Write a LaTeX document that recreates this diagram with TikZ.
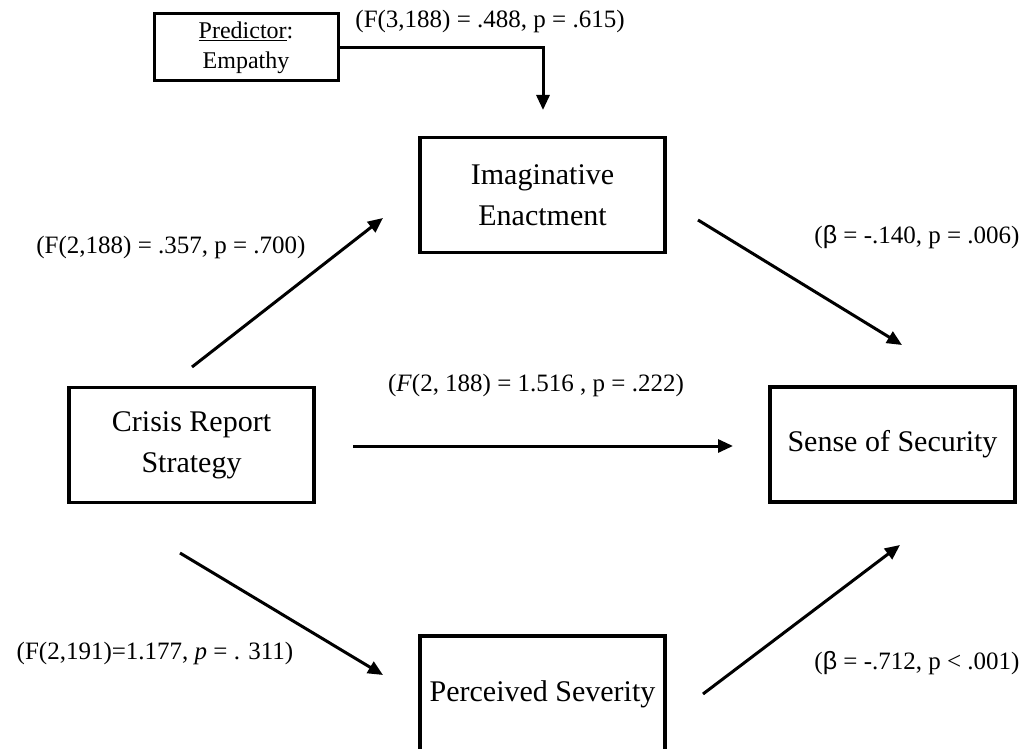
\documentclass[tikz,border=0pt]{standalone}
\usepackage{fontspec}
\setmainfont{Liberation Serif}
\newfontfamily\betafont{Liberation Sans}
\usepackage{tikz}
\usetikzlibrary{arrows.meta,positioning}
\tikzset{
      varbox/.style   = {draw, line width=3.5pt, align=center, inner sep=0pt,
                         minimum width=245, minimum height=115,
                         font=\fontsize{30}{41}\selectfont},
      predbox/.style  = {draw, line width=3pt, align=center, inner sep=0pt,
                         minimum width=184, minimum height=67,
                         font=\fontsize{24}{30}\selectfont},
      statlbl/.style  = {inner sep=0pt, font=\fontsize{25}{30}\selectfont},
      pathedge/.style = {black, line width=3pt, -{Triangle[length=15pt,width=13pt]}},
    }

\begin{document}
\begin{tikzpicture}[x=1pt, y=-1pt]
        \useasboundingbox (0,0) rectangle (1029,749);
        \node [predbox] (emp) at (246,47.5) {\underline{Predictor}:\\Empathy};
        \node [varbox] (ie)  at (542.5,195) {Imaginative\\Enactment};
        \node [varbox] (crs) at (191.5,445) {Crisis Report\\Strategy};
        \node [varbox] (sos) at (892.5,444.5) {Sense of Security};
        \node [varbox, minimum height=116] (ps) at (542.5,694) {Perceived Severity};

        % free ends of the paths
        \coordinate (ieIn)   at (543,110);
        \coordinate (crsUp)  at (192,367);
        \coordinate (ieLow)  at (383,218);
        \coordinate (ieOut)  at (698,220);
        \coordinate (sosUp)  at (902,345);
        \coordinate (crsOut) at (353,446);
        \coordinate (sosIn)  at (733,446);
        \coordinate (crsLow) at (180,553);
        \coordinate (psIn)   at (383,675);
        \coordinate (psOut)  at (703,694);
        \coordinate (sosLow) at (900,545);

        \draw [pathedge] (emp.east) -| (ieIn);
        \path (crsUp) edge [pathedge] (ieLow);
        \path (ieOut) edge [pathedge] (sosUp);
        \path (crsOut) edge [pathedge] (sosIn);
        \path (crsLow) edge [pathedge] (psIn);
        \path (psOut) edge [pathedge] (sosLow);

        \node [statlbl] (fEmp)   at (490,21)  {(F(3,188) = .488, p = .615)};
        \node [statlbl] (fIe)    at (171,247) {(F(2,188) = .357, p = .700)};
        \node [statlbl] (bIe)    at (917,237) {({\betafont β} = -.140, p = .006)};
        \node [statlbl] (fDir)   at (536,385) {(\textit{F}(2, 188) = 1.516 , p = .222)};
        \node [statlbl] (fPs)    at (155,653) {(F(2,191)=1.177, \textit{p} = . 311)};
        \node [statlbl] (bPs)    at (917,663) {({\betafont β} = -.712, p < .001)};
\end{tikzpicture}
\end{document}
